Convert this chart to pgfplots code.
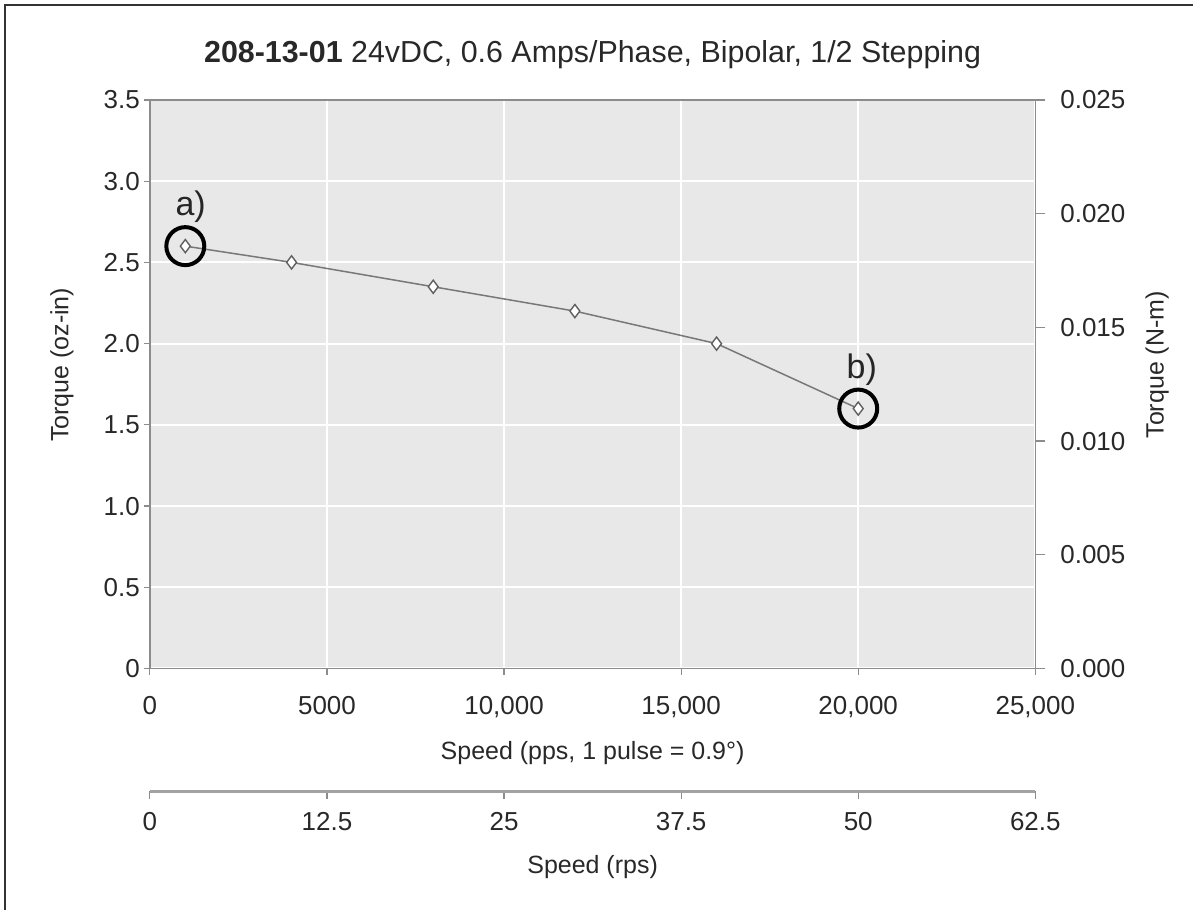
\documentclass[border=0pt]{standalone}
\usepackage{fontspec}
\setmainfont{Liberation Sans}
\usepackage{pgfplots}
\pgfplotsset{compat=1.18}

\definecolor{plotbg}{RGB}{232,232,232}
\definecolor{txt}{RGB}{40,40,40}
\definecolor{axline}{RGB}{140,140,140}
\definecolor{curve}{RGB}{120,120,120}

\begin{document}
\begin{tikzpicture}[font=\fontsize{12.5pt}{15pt}\selectfont, text=txt]

% main axis: torque in oz-in against speed in pps
\begin{axis}[
    name=main,
    scale only axis,
    width=443pt, height=284.5pt,
    xmin=0, xmax=25000,
    ymin=0, ymax=3.5,
    scaled ticks=false,
    axis background/.style={fill=plotbg},
    axis line style={axline, line width=0.8pt},
    grid=major,
    major grid style={white, line width=1.1pt},
    xtick={0,5000,10000,15000,20000,25000},
    xticklabels={0,5000,{10,000},{15,000},{20,000},{25,000}},
    ytick={0,0.5,1,1.5,2,2.5,3,3.5},
    yticklabels={0,0.5,1.0,1.5,2.0,2.5,3.0,3.5},
    xtick pos=bottom, ytick pos=left,
    tick align=outside,
    major tick length=3pt,
    tick style={axline, line width=0.6pt},
    ticklabel style={font=\fontsize{13pt}{15pt}\selectfont},
    xticklabel style={anchor=base, yshift=-20pt},
    yticklabel style={anchor=east, xshift=1.5pt},
    title={\textbf{208-13-01} 24vDC, 0.6 Amps/Phase, Bipolar, 1/2 Stepping},
    title style={at={(axis description cs:0.5,1)}, anchor=base, yshift=12.5pt,
                 font=\fontsize{15.2pt}{18pt}\selectfont},
    xlabel={Speed (pps, 1 pulse = 0.9°)},
    xlabel style={at={(axis description cs:0.5,0)}, anchor=center, yshift=-42.5pt},
    ylabel={Torque (oz-in)},
    ylabel style={at={(axis description cs:-0.0993,0.534)}, anchor=center},
    clip=false,
]
\addplot[curve, line width=0.75pt, mark=diamond*, mark size=3.3pt,
         mark options={fill=white, draw=curve!80!black, line width=0.7pt}]
  coordinates {
    (1000,2.6) (4000,2.5) (8000,2.35) (12000,2.2) (16000,2.0) (20000,1.6)
  };
% highlighted points a) and b)
\addplot[only marks, mark=o, mark size=9.5pt,
         mark options={black, line width=2pt}]
  coordinates {(1000,2.6) (20000,1.6)};
\node[font=\fontsize{17pt}{20pt}\selectfont, text=black!85] at (axis cs:1150,2.84) {a)};
\node[font=\fontsize{17pt}{20pt}\selectfont, text=black!85] at (axis cs:20100,1.84) {b)};
\end{axis}

% right axis: torque in N-m
\begin{axis}[
    scale only axis,
    width=443pt, height=284.5pt,
    xmin=0, xmax=25000,
    ymin=0, ymax=0.025,
    scaled ticks=false,
    axis x line=none,
    axis y line*=right,
    axis line style={axline, line width=0.8pt, -},
    ytick={0,0.005,0.01,0.015,0.02,0.025},
    yticklabels={0.000,0.005,0.010,0.015,0.020,0.025},
    tick align=outside,
    major tick length=5pt,
    tick style={axline, line width=0.6pt},
    yticklabel style={anchor=west, xshift=4pt, font=\fontsize{13pt}{15pt}\selectfont},
    ylabel={Torque (N-m)},
    ylabel style={at={(axis description cs:1.1377,0.534)}, anchor=center},
]
\addplot[draw=none] coordinates {(0,0)};
\end{axis}

% second speed scale in rps
\begin{axis}[
    at={(0pt,-61.5pt)}, anchor=south west,
    scale only axis,
    width=443pt, height=1pt,
    xmin=0, xmax=62.5,
    ymin=0, ymax=1,
    scaled ticks=false,
    axis x line*=bottom,
    hide y axis,
    axis line style={axline!80, line width=1.2pt, -},
    xtick={0,12.5,25,37.5,50,62.5},
    xticklabels={0,12.5,25,37.5,50,62.5},
    tick align=outside,
    major tick length=4pt,
    tick style={axline, line width=0.6pt},
    xticklabel style={anchor=base, yshift=-15.5pt, font=\fontsize{13pt}{15pt}\selectfont},
    xlabel={Speed (rps)},
    xlabel style={at={(axis description cs:0.5,0)}, anchor=center, yshift=-38pt},
]
\addplot[draw=none] coordinates {(0,0)};
\end{axis}

% outer frame (top and left edges) and picture extent
\path ([shift={(-75pt,-121pt)}]main.south west) rectangle ([shift={(79pt,50pt)}]main.north east);
\draw[black!80, line width=0.8pt]
  ([shift={(-72.5pt,-121pt)}]main.south west) -- ([shift={(-72.5pt,47.5pt)}]main.north west)
  -- ([shift={(79pt,47.5pt)}]main.north east);
\end{tikzpicture}
\end{document}
